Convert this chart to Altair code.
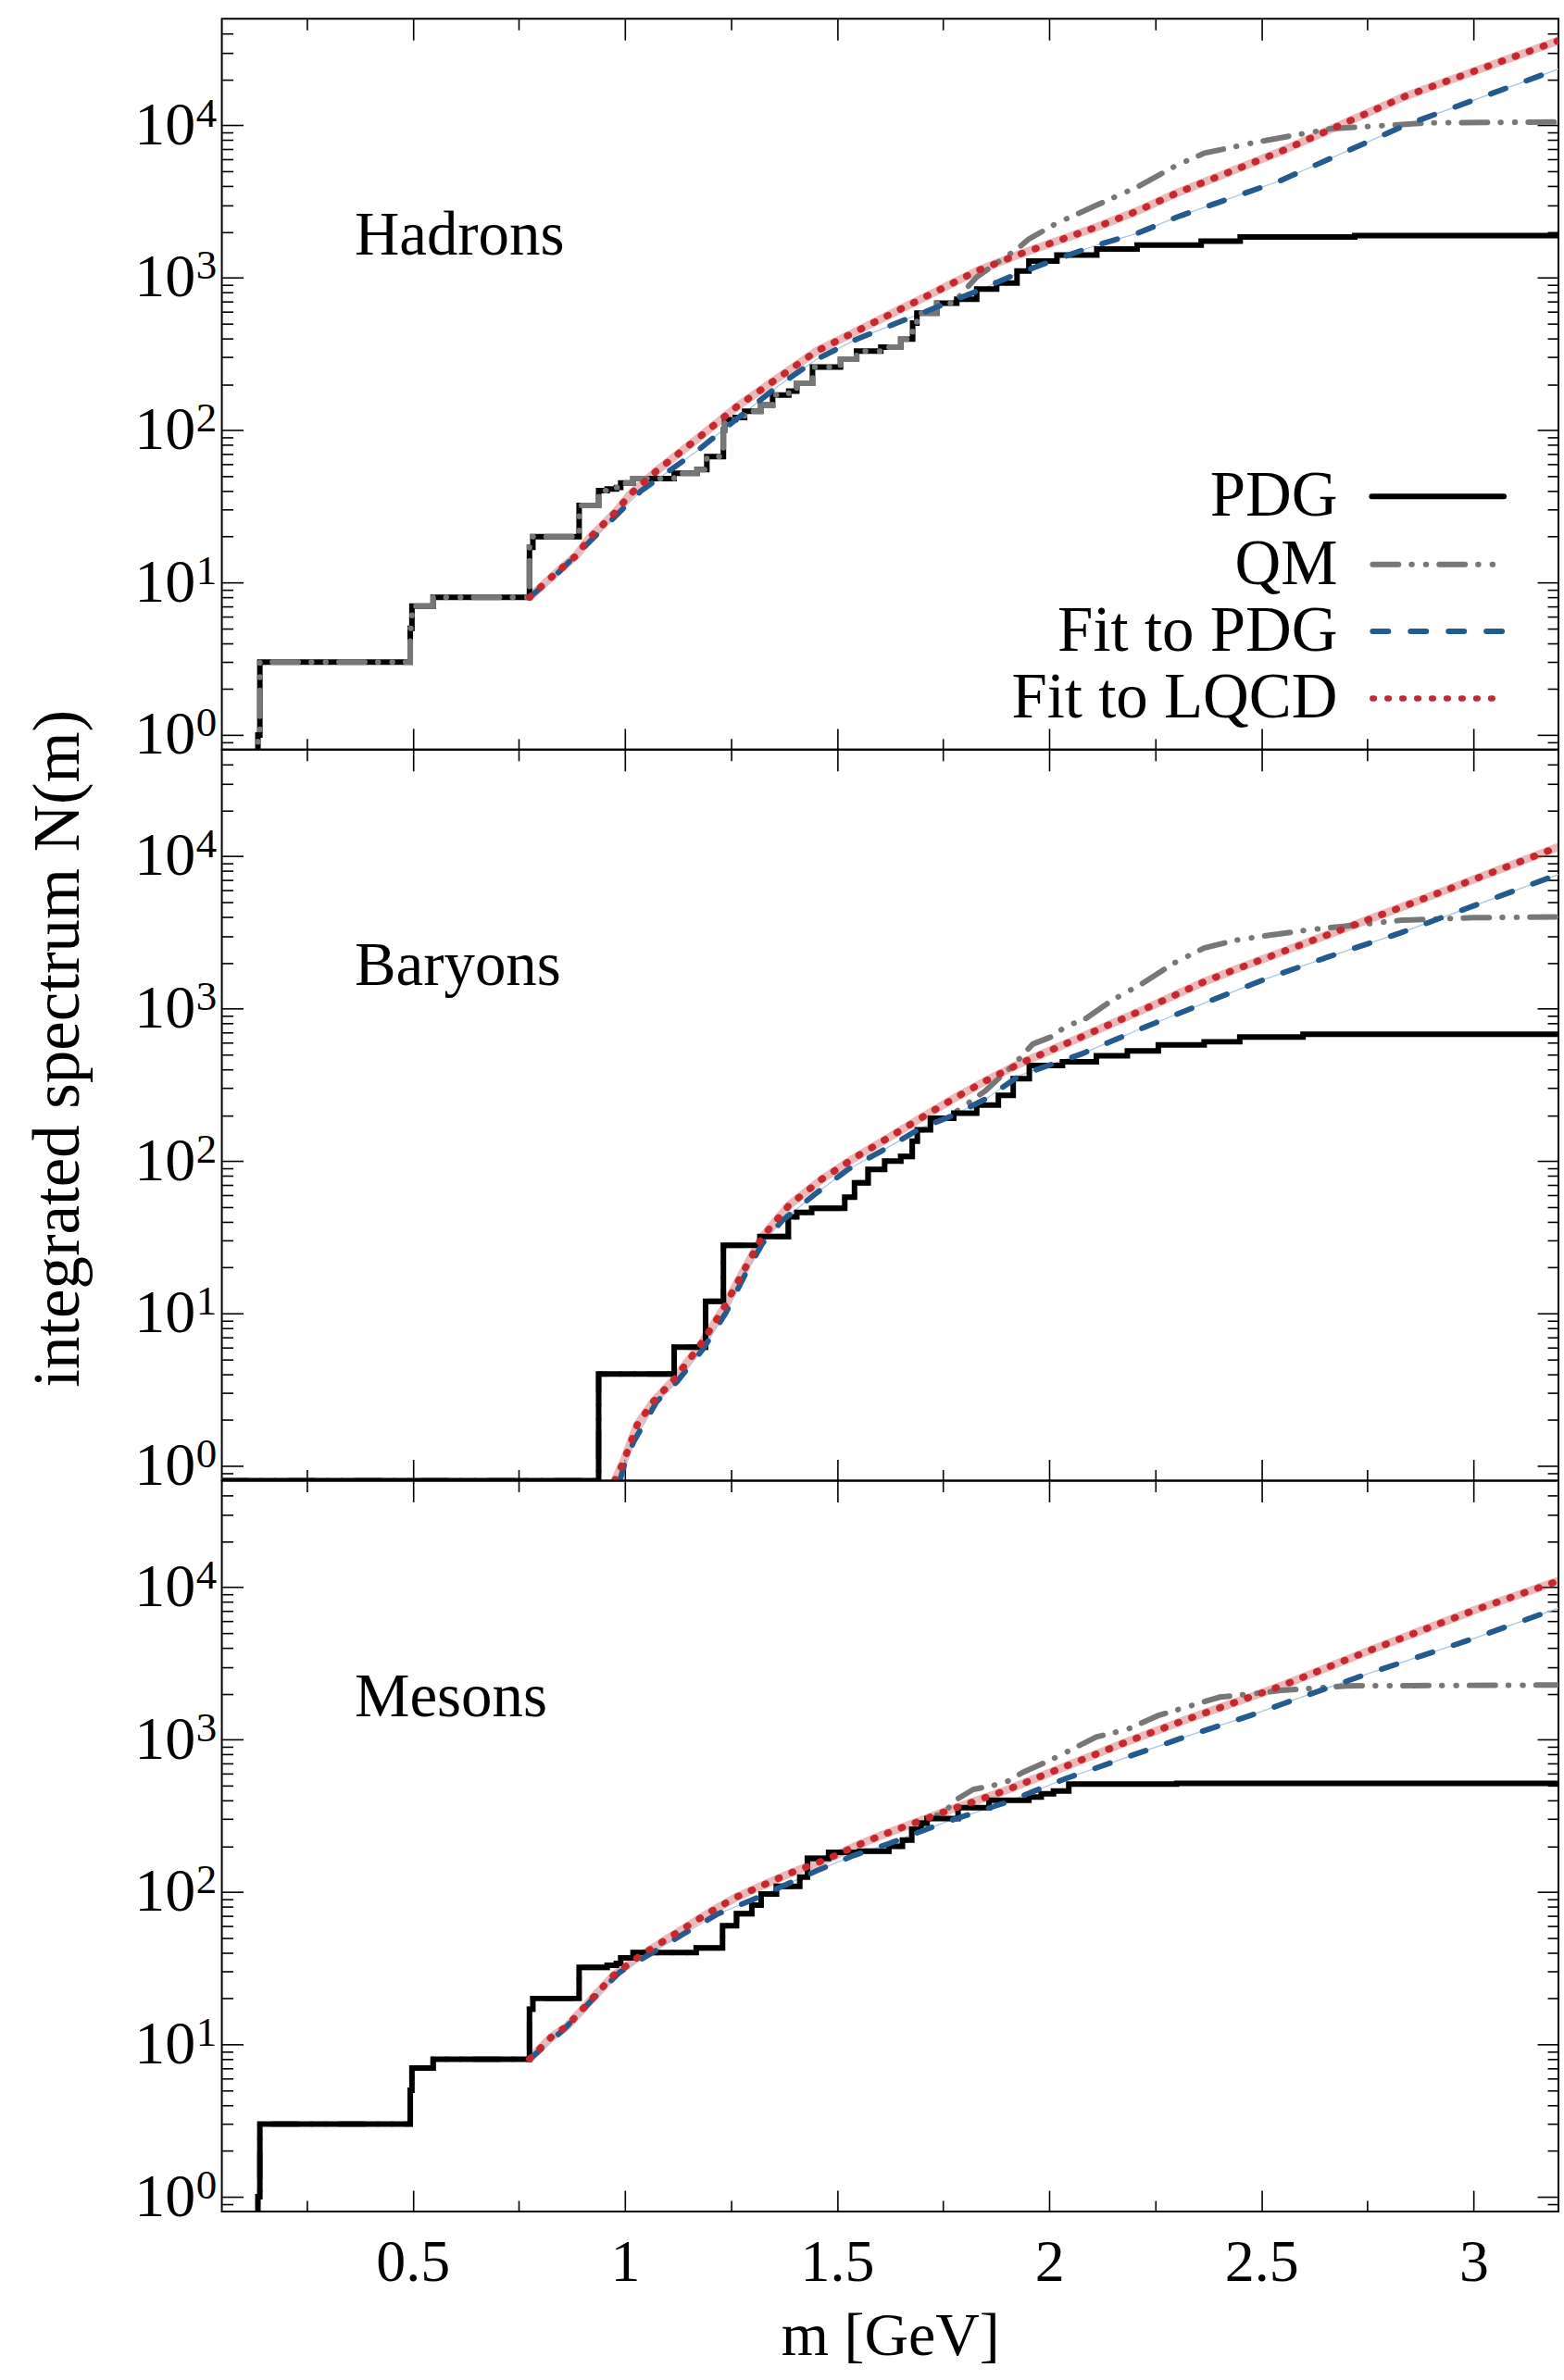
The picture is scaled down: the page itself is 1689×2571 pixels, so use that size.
import altair as alt
import pandas as pd

FONT = "Liberation Serif"

# ---------------- axis ranges and tick positions ----------------
X_DOMAIN = [0.05, 3.2]
Y_DOMAIN = [0.8, 50000]
X_MAJOR = [0.5, 1, 1.5, 2, 2.5, 3]
X_MINOR = [0.25, 0.75, 1.25, 1.75, 2.25, 2.75]
Y_MAJOR = [1, 10, 100, 1000, 10000]
Y_MINOR = [0.9, 2, 3, 4, 5, 6, 7, 8, 9, 20, 30, 40, 50, 60, 70, 80, 90,
           200, 300, 400, 500, 600, 700, 800, 900,
           2000, 3000, 4000, 5000, 6000, 7000, 8000, 9000,
           20000, 30000, 40000]

# ---------------- Hadrons ----------------
HAD_PDG_M = [0.135, 0.135, 0.1396, 0.494, 0.498, 0.548, 0.775, 0.783, 0.892, 0.938,
             0.958, 0.98, 0.99, 1.019, 1.116, 1.17, 1.193, 1.232, 1.235, 1.26,
             1.282, 1.32, 1.348, 1.386, 1.405, 1.442, 1.508, 1.546, 1.603, 1.65,
             1.678, 1.688, 1.735, 1.782, 1.829, 1.876, 1.924, 1.952, 2.018, 2.112,
             2.207, 2.358, 2.45, 2.72, 3.2]
HAD_PDG_N = [0.5, 1, 3, 5, 7, 8, 17, 20, 32, 40,
             41, 42, 45, 48, 52, 55, 67, 100, 117, 121,
             133, 146, 170, 180, 203, 259, 292, 330, 350, 395,
             503, 586, 681, 723, 842, 922, 1105, 1284, 1406, 1540,
             1636, 1738, 1850, 1890, 1890]
HAD_QM_SHARED = 34  # QM coincides with PDG up to m = 1.78 GeV
HAD_QM_M = [1.829, 1.876, 1.924, 1.952, 2.018, 2.112, 2.207, 2.301, 2.366, 2.487, 2.664, 2.898, 3.2]
HAD_QM_N = [1009, 1247, 1540, 1792, 2281, 2993, 3934, 5483, 6570, 7740, 9500, 10380, 10500]
HAD_FITPDG_M = [0.775, 0.834, 0.904, 1.037, 1.169, 1.263, 1.357, 1.452, 1.546, 1.64,
                1.735, 1.829, 1.924, 2.018, 2.112, 2.207, 2.301, 2.544, 2.839, 3.2]
HAD_FITPDG_N = [8, 11, 17.1, 39.7, 72.6, 118, 191, 292, 395, 503,
                641, 816, 1060, 1324, 1636, 1950, 2500, 4325, 10000, 23400]
HAD_FITLQCD_M = [0.775, 0.834, 0.886, 0.916, 0.98, 1.011, 1.074, 1.169, 1.263, 1.357,
                 1.452, 1.546, 1.64, 1.735, 1.829, 1.924, 2.018, 2.112, 2.207, 2.301,
                 2.544, 2.839, 3.2]
HAD_FITLQCD_N = [8, 11.3, 15.1, 19.5, 29.4, 37.6, 53.8, 87, 142, 216,
                 330, 446, 603, 816, 1105, 1406, 1738, 2148, 2735, 3594,
                 6700, 15500, 35900]

# ---------------- Baryons ----------------
BAR_PDG_M = [0.05, 0.938, 0.938, 1.116, 1.19, 1.232, 1.318, 1.385, 1.405, 1.44,
             1.518, 1.541, 1.573, 1.612, 1.65, 1.677, 1.689, 1.72, 1.775, 1.829,
             1.88, 1.915, 1.953, 2.031, 2.111, 2.184, 2.257, 2.365, 2.449, 2.598, 3.2]
BAR_PDG_N = [0.8, 0.8, 4, 6, 12, 28, 32, 43, 46, 49,
             58, 72, 88, 100, 107, 135, 160, 191, 206, 233,
             270, 347, 424, 448, 491, 527, 578, 606, 650, 680, 680]
BAR_QM_SHARED = 19
BAR_QM_M = [1.80, 1.85, 1.90, 1.93, 1.961, 2.003, 2.047, 2.075, 2.148, 2.22,
            2.293, 2.365, 2.438, 2.511, 2.619, 2.692, 2.83, 3.0, 3.2]
BAR_QM_N = [230, 290, 390, 470, 585, 650, 789, 820, 1135, 1466,
            1983, 2500, 2806, 3013, 3306, 3461, 3800, 3950, 4000]
BAR_FITPDG_M = [0.988, 1.0, 1.021, 1.075, 1.122, 1.184, 1.238, 1.285, 1.324, 1.371,
                1.448, 1.526, 1.604, 1.697, 1.775, 1.852, 1.93, 2.075, 2.22, 2.365,
                2.511, 2.656, 2.83, 3.2]
BAR_FITPDG_N = [0.8, 1.05, 1.45, 2.64, 3.55, 5.84, 10.1, 18.4, 28.8, 40.7,
                60.7, 88.2, 116, 164, 200, 257, 364, 503, 746, 1085,
                1570, 2178, 3155, 7600]
BAR_FITLQCD_M = [0.976, 0.997, 1.029, 1.067, 1.114, 1.176, 1.231, 1.277, 1.324, 1.386,
                 1.464, 1.541, 1.619, 1.697, 1.775, 1.852, 1.93, 2.075, 2.22, 2.365,
                 2.438, 2.583, 2.728, 2.844, 3.2]
BAR_FITLQCD_N = [0.8, 1.07, 1.86, 2.64, 3.64, 6.1, 10.6, 18.4, 31.8, 51,
                 76, 105, 141, 191, 257, 338, 435, 650, 980, 1500,
                 1804, 2558, 3622, 4790, 11500]

# ---------------- Mesons ----------------
MES_PDG_M = [0.135, 0.135, 0.1396, 0.494, 0.498, 0.548, 0.775, 0.783, 0.892, 0.958,
             0.98, 0.99, 1.019, 1.168, 1.23, 1.263, 1.299, 1.321, 1.357, 1.412,
             1.43, 1.48, 1.553, 1.622, 1.654, 1.676, 1.698, 1.712, 1.785, 1.858,
             1.952, 1.981, 2.01, 2.046, 2.3, 3.2]
MES_PDG_N = [0.5, 1, 3, 5, 7, 8, 17, 20, 32, 33,
             34, 37, 40, 43, 60, 72, 82, 97, 109, 125,
             166, 182, 185, 199, 219, 258, 283, 303, 357, 400,
             420, 440, 460, 510, 515, 515]
MES_QM_SHARED = 28
MES_QM_M = [1.75, 1.785, 1.821, 1.894, 1.937, 2.003, 2.039, 2.111, 2.184, 2.257,
            2.329, 2.402, 2.474, 2.547, 2.7, 3.2]
MES_QM_N = [330, 410, 471, 517, 608, 733, 823, 1040, 1167, 1438,
            1652, 1900, 1990, 2100, 2250, 2280]
MES_FITPDG_M = [0.775, 0.857, 0.922, 0.987, 1.06, 1.132, 1.219, 1.299, 1.379, 1.451,
                1.538, 1.625, 1.749, 1.894, 2.039, 2.184, 2.329, 2.474, 2.554, 2.75,
                3.0, 3.2]
MES_FITPDG_N = [8, 12.6, 19.5, 29.7, 39.3, 51.9, 71.8, 88.5, 111.6, 137.6,
                173, 209, 283, 383, 555, 768, 1062, 1438, 1730, 2700,
                4600, 7300]
MES_FITLQCD_M = [0.775, 0.827, 0.864, 0.9, 0.936, 0.973, 1.031, 1.089, 1.147, 1.205,
                 1.263, 1.328, 1.393, 1.48, 1.553, 1.604, 1.749, 1.894, 2.039, 2.184,
                 2.329, 2.474, 2.554, 2.75, 3.0, 3.2]
MES_FITLQCD_N = [8, 11.2, 13.2, 17, 21.9, 28.3, 37.4, 47.2, 59.6, 75.1,
                 92.6, 111.6, 134, 166, 205, 235, 333, 460, 668, 969,
                 1373, 1901, 2287, 3794, 7030, 11000]

LEGEND_LABELS = ["PDG", "QM", "Fit to PDG", "Fit to LQCD"]

# ---------------- styles ----------------
BLACK = "#000000"
GRAY = "#777777"
BLUE = "#245a8e"
BLUE_LIGHT = "#a9c6e4"
RED = "#c6282f"
QM_DASH = [28, 14, 0.5, 15, 0.5, 14]
BLUE_DASH = [17, 24]
RED_DOT = [1.5, 14.5]
LW = 6

PANEL_W = 1446
PANEL_H = 791


def step_vertices(ms, ns):
    pts = [(ms[0], ns[0])]
    for i in range(1, len(ms)):
        pts.append((ms[i], ns[i - 1]))
        pts.append((ms[i], ns[i]))
    return pts


def to_df(pts):
    return pd.DataFrame({"m": [p[0] for p in pts], "N": [p[1] for p in pts],
                         "i": list(range(len(pts)))})


BASE_AXIS = dict(domain=False, grid=False, tickColor="black", tickWidth=1.6,
                 labelFont=FONT, labelColor="black", labelFlush=False,
                 labelOverlap=False, titleFont=FONT, titleColor="black",
                 titleFontWeight="normal")


def ax(**kw):
    d = dict(BASE_AXIS)
    d.update(kw)
    return alt.Axis(**d)


def panel(name, pdg_m, pdg_n, qm_shared, qm_m, qm_n, fp_m, fp_n, fl_m, fl_n,
          qm_on_top, show_x, ytitle, legend):
    xs = alt.Scale(domain=X_DOMAIN, nice=False, zero=False)
    ys = alt.Scale(type="log", domain=Y_DOMAIN, nice=False)

    pdg_df = to_df(step_vertices(pdg_m, pdg_n))
    qm_pts = step_vertices(pdg_m[:qm_shared], pdg_n[:qm_shared]) + list(zip(qm_m, qm_n))
    qm_df = to_df(qm_pts)
    fp_df = to_df(list(zip(fp_m, fp_n)))
    fl_df = to_df(list(zip(fl_m, fl_n)))

    if show_x:
        x_bottom = ax(orient="bottom", values=X_MAJOR, tickSize=23, offset=-23,
                      format="~g", labelFontSize=64, labelPadding=24,
                      title="m [GeV]", titleFontSize=66, titleY=178,
                      titleBaseline="alphabetic")
    else:
        x_bottom = ax(orient="bottom", values=X_MAJOR, tickSize=23, offset=-23,
                      labels=False, title=None)
    x_bottom_minor = ax(orient="bottom", values=X_MINOR, tickSize=12, offset=-12,
                        labels=False, title=None)
    x_top = ax(orient="top", values=X_MAJOR, tickSize=23, offset=-23,
               labels=False, title=None)
    x_top_minor = ax(orient="top", values=X_MINOR, tickSize=12, offset=-12,
                     labels=False, title=None)

    y_left = ax(orient="left", values=Y_MAJOR, tickSize=23, offset=-23,
                labelExpr="'10'", labelFontSize=66, labelPadding=29, title=None)
    sup = dict(orient="left", values=Y_MAJOR, ticks=False,
               labelExpr="'' + round(log(datum.value) / LN10)",
               labelFontSize=45, labelPadding=6, labelOffset=-13)
    if ytitle:
        y_sup = ax(title=ytitle, titleFontSize=71, titleX=-176, titleY=323,
                   titleAngle=270, titleAlign="center", titleBaseline="middle", **sup)
    else:
        y_sup = ax(title=None, **sup)
    y_left_minor = ax(orient="left", values=Y_MINOR, tickSize=12, offset=-12,
                      labels=False, title=None)
    y_right = ax(orient="right", values=Y_MAJOR, tickSize=23, offset=-23,
                 labels=False, title=None)
    y_right_minor = ax(orient="right", values=Y_MINOR, tickSize=12, offset=-12,
                       labels=False, title=None)

    def enc(xaxis, yaxis):
        return dict(x=alt.X("m:Q", scale=xs, axis=xaxis),
                    y=alt.Y("N:Q", scale=ys, axis=yaxis),
                    order=alt.Order("i:Q"))

    band = alt.Chart(fl_df).mark_line(color=RED, opacity=0.33, strokeWidth=9,
                                      clip=True).encode(**enc(x_bottom, y_left))
    blue_thin = alt.Chart(fp_df).mark_line(color=BLUE_LIGHT, strokeWidth=1.3,
                                           clip=True).encode(**enc(x_bottom_minor, y_sup))
    pdg = alt.Chart(pdg_df).mark_line(color=BLACK, strokeWidth=LW, clip=True,
                                      strokeJoin="miter").encode(**enc(None, y_right_minor))
    qm = alt.Chart(qm_df).mark_line(color=GRAY, strokeWidth=LW, clip=True,
                                    strokeDash=QM_DASH, strokeCap="round").encode(**enc(None, None))
    blue = alt.Chart(fp_df).mark_line(color=BLUE, strokeWidth=LW, clip=True,
                                      strokeDash=BLUE_DASH, strokeCap="round").encode(**enc(x_top, y_left_minor))
    red = alt.Chart(fl_df).mark_line(color=RED, strokeWidth=7.5, clip=True,
                                     strokeDash=RED_DOT, strokeCap="round").encode(**enc(x_top_minor, y_right))

    steps = [qm, pdg] if not qm_on_top else [pdg, qm]
    layers = [band, blue_thin] + steps + [blue, red]

    label = alt.Chart(pd.DataFrame({"t": [name]})).mark_text(
        align="left", baseline="alphabetic", font=FONT, fontSize=67, color="black"
    ).encode(x=alt.value(143.6), y=alt.value(255), text="t:N")
    layers.append(label)

    if legend:
        rows = [(517, dict(color=BLACK, strokeWidth=LW, strokeCap="round"), 1244, 1387),
                (590.5, dict(color=GRAY, strokeWidth=LW, strokeDash=QM_DASH, strokeCap="round"), 1245, 1387),
                (663, dict(color=BLUE, strokeWidth=LW, strokeDash=BLUE_DASH, strokeCap="round"), 1245, 1387),
                (735.5, dict(color=RED, strokeWidth=6.5, strokeDash=RED_DOT, strokeCap="round"), 1245, 1376)]
        for lab, (yy, style, x1, x2) in zip(LEGEND_LABELS, rows):
            d = pd.DataFrame({"t": [lab]})
            layers.append(alt.Chart(d).mark_text(
                align="right", baseline="middle", font=FONT, fontSize=69, color="black"
            ).encode(x=alt.value(1207), y=alt.value(yy), text="t:N"))
            layers.append(alt.Chart(d).mark_rule(**style).encode(
                x=alt.value(x1), x2=alt.value(x2), y=alt.value(yy)))

    return alt.layer(*layers).resolve_axis(x="independent", y="independent").properties(
        width=PANEL_W, height=PANEL_H)


p1 = panel("Hadrons", HAD_PDG_M, HAD_PDG_N, HAD_QM_SHARED, HAD_QM_M, HAD_QM_N,
           HAD_FITPDG_M, HAD_FITPDG_N, HAD_FITLQCD_M, HAD_FITLQCD_N,
           qm_on_top=True, show_x=False, ytitle=None, legend=True)
p2 = panel("Baryons", BAR_PDG_M, BAR_PDG_N, BAR_QM_SHARED, BAR_QM_M, BAR_QM_N,
           BAR_FITPDG_M, BAR_FITPDG_N, BAR_FITLQCD_M, BAR_FITLQCD_N,
           qm_on_top=False, show_x=False, ytitle="integrated spectrum N(m)", legend=False)
p3 = panel("Mesons", MES_PDG_M, MES_PDG_N, MES_QM_SHARED, MES_QM_M, MES_QM_N,
           MES_FITPDG_M, MES_FITPDG_N, MES_FITLQCD_M, MES_FITLQCD_N,
           qm_on_top=False, show_x=True, ytitle=None, legend=False)

chart = alt.vconcat(p1, p2, p3, spacing=0, bounds="flush").properties(
    padding={"left": 26, "top": 16, "right": 4, "bottom": 2},
    background="white",
).configure_view(stroke="black", strokeWidth=2)

chart.save("out.html", embed_options={"renderer": "svg", "actions": False})
